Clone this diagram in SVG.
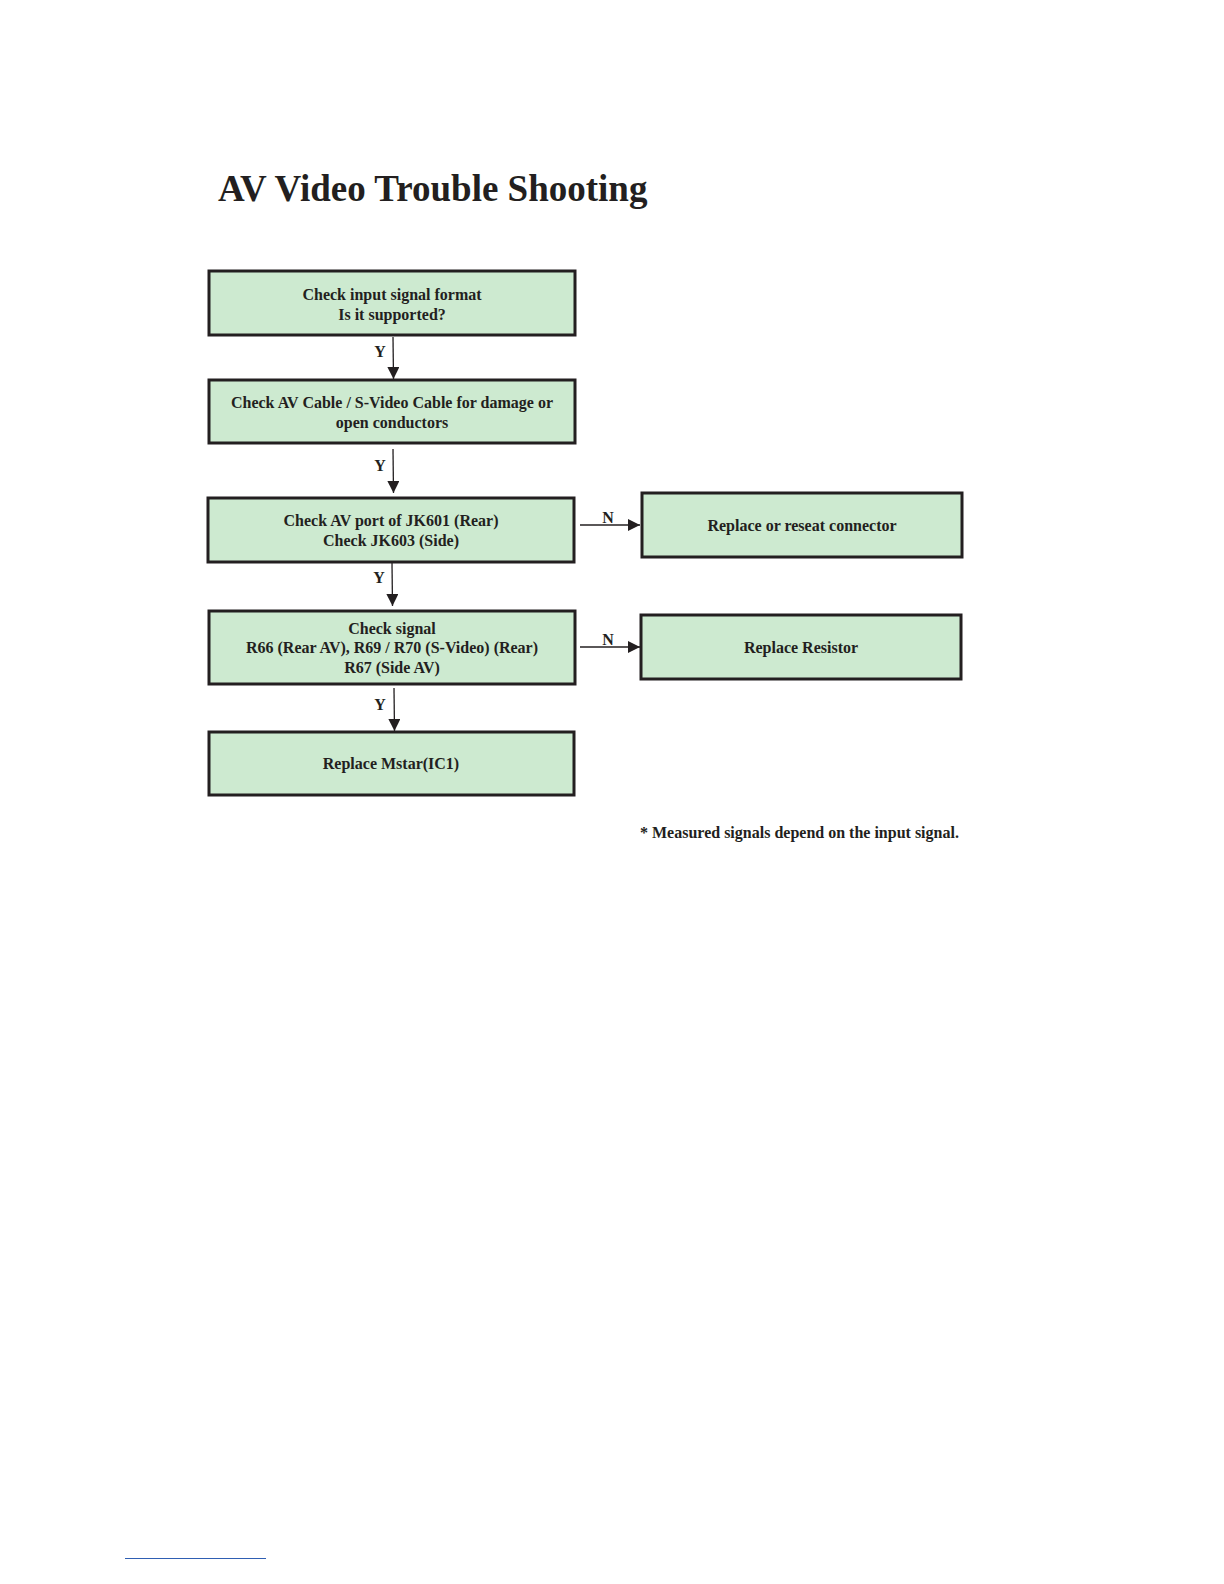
<svg xmlns="http://www.w3.org/2000/svg" width="1224" height="1584" viewBox="0 0 1224 1584">
<style>
.box{fill:#cdead0;stroke:#231f20;stroke-width:3}
.t{font-family:"Liberation Serif",serif;font-weight:bold;font-size:16px;fill:#231f20;text-anchor:middle}
.lbl{font-family:"Liberation Serif",serif;font-weight:bold;font-size:16px;fill:#231f20;text-anchor:middle}
.ln{stroke:#231f20;stroke-width:1.3;fill:none}
</style>
<defs>
<marker id="ahw" viewBox="0 0 10 10" refX="10" refY="5" markerWidth="12" markerHeight="12" markerUnits="userSpaceOnUse" orient="auto">
<path d="M0,0 L10,5 L0,10 z" fill="#231f20"/>
</marker>
</defs>
<rect width="1224" height="1584" fill="#fff"/>
<text x="218" y="201" font-family="Liberation Serif,serif" font-weight="bold" font-size="37" fill="#231f20">AV Video Trouble Shooting</text>

<g id="n1"><rect class="box" x="209" y="271" width="366" height="64"/>
<text class="t" x="392" y="300">Check input signal format</text>
<text class="t" x="392" y="320">Is it supported?</text></g>
<g id="n2"><rect class="box" x="209" y="380" width="366" height="63"/>
<text class="t" x="392" y="408">Check AV Cable / S-Video Cable for damage or</text>
<text class="t" x="392" y="428">open conductors</text></g>
<g id="n3"><rect class="box" x="208" y="498" width="366" height="64"/>
<text class="t" x="391" y="526">Check AV port of JK601 (Rear)</text>
<text class="t" x="391" y="546">Check JK603 (Side)</text></g>
<g id="n4"><rect class="box" x="209" y="611" width="366" height="73"/>
<text class="t" x="392" y="634">Check signal</text>
<text class="t" x="392" y="653">R66 (Rear AV), R69 / R70 (S-Video) (Rear)</text>
<text class="t" x="392" y="673">R67 (Side AV)</text></g>
<g id="n5"><rect class="box" x="209" y="732" width="365" height="63"/>
<text class="t" x="391" y="769">Replace Mstar(IC1)</text></g>
<g id="n6"><rect class="box" x="642" y="493" width="320" height="64"/>
<text class="t" x="802" y="531">Replace or reseat connector</text></g>
<g id="n7"><rect class="box" x="641" y="615" width="320" height="64"/>
<text class="t" x="801" y="653">Replace Resistor</text></g>

<g id="connectors">
<line class="ln" x1="393" y1="337" x2="393.5" y2="379" marker-end="url(#ahw)"/>
<line class="ln" x1="393" y1="449" x2="393.5" y2="493" marker-end="url(#ahw)"/>
<line class="ln" x1="392" y1="563" x2="392.5" y2="606" marker-end="url(#ahw)"/>
<line class="ln" x1="394" y1="688" x2="394.5" y2="731" marker-end="url(#ahw)"/>
<line class="ln" x1="580" y1="525" x2="640" y2="525" marker-end="url(#ahw)"/>
<line class="ln" x1="580" y1="647" x2="640" y2="647" marker-end="url(#ahw)"/>
<text class="lbl" x="380" y="357">Y</text>
<text class="lbl" x="380" y="471">Y</text>
<text class="lbl" x="379" y="583">Y</text>
<text class="lbl" x="380" y="710">Y</text>
<text class="lbl" x="608" y="523">N</text>
<text class="lbl" x="608" y="645">N</text>
</g>

<text x="640" y="838" font-family="Liberation Serif,serif" font-weight="bold" font-size="16" fill="#231f20">* Measured signals depend on the input signal.</text>
<line x1="125" y1="1558.5" x2="266" y2="1558.5" stroke="#2f5fb3" stroke-width="1"/>
</svg>
